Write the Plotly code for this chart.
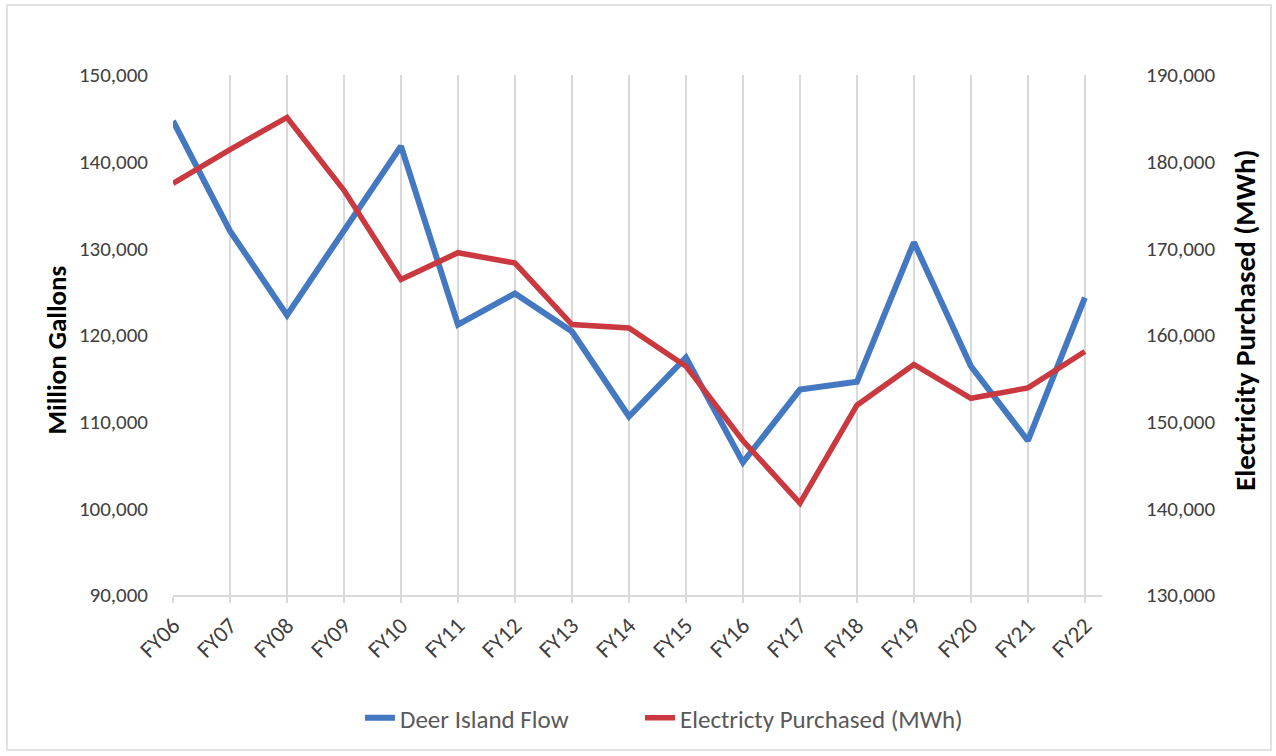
import plotly.graph_objects as go

# Fiscal years on the category axis
years = ["FY06", "FY07", "FY08", "FY09", "FY10", "FY11", "FY12", "FY13", "FY14",
         "FY15", "FY16", "FY17", "FY18", "FY19", "FY20", "FY21", "FY22"]

# Deer Island flow, million gallons (left axis)
flow_mg = [144700, 132000, 122300, 132000, 141800, 121200, 124800, 120400, 110600,
           117400, 105300, 113700, 114600, 130700, 116400, 107800, 124300]

# Electricity purchased, MWh (right axis)
electricity_mwh = [177500, 181400, 185100, 176700, 166400, 169500, 168300, 161200, 160800,
                   156400, 147800, 140600, 151900, 156600, 152700, 153900, 158100]

W, H = 1276, 756
L, R, T, B = 173, 174, 75, 161
pw, ph = W - L - R, H - T - B

FONT = "Carlito, Lato, 'Liberation Sans', sans-serif"
TICK_COLOR = "#404040"
GRID = "#d9d9d9"

fig = go.Figure()
fig.add_trace(go.Scatter(
    x=years, y=flow_mg, name="Deer Island Flow", mode="lines",
    line=dict(color="#4479c1", width=6), yaxis="y", legend="legend",
))
fig.add_trace(go.Scatter(
    x=years, y=electricity_mwh, name="Electricty Purchased (MWh)", mode="lines",
    line=dict(color="#c9393f", width=5.5), yaxis="y2", legend="legend2",
))

def px_to_paper_x(px):
    return (px - L) / pw

def px_to_paper_y(py):
    return (H - B - py) / ph

legend_style = dict(
    orientation="h", xanchor="left", yanchor="middle",
    y=px_to_paper_y(718),
    font=dict(size=25, color="#595959"),
    bgcolor="rgba(0,0,0,0)", itemwidth=30,
)

fig.update_layout(
    width=W, height=H,
    margin=dict(l=L, r=R, t=T, b=B),
    paper_bgcolor="white", plot_bgcolor="white",
    font=dict(family=FONT, size=21, color=TICK_COLOR),
    xaxis=dict(
        type="category", categoryorder="array", categoryarray=years,
        range=[0, 16.3],
        showgrid=True, gridcolor=GRID, gridwidth=1.5,
        showline=True, linecolor=GRID, linewidth=2,
        ticks="outside", ticklen=6, tickcolor=GRID, tickwidth=1.5,
        tickangle=-45, tickfont=dict(size=23, color=TICK_COLOR),
        zeroline=False,
    ),
    yaxis=dict(
        range=[90000, 150000], dtick=10000, tickformat=",",
        showgrid=False, zeroline=False, showline=False,
        tickfont=dict(size=21, color=TICK_COLOR),
        ticklabelstandoff=24,
    ),
    yaxis2=dict(
        range=[130000, 190000], dtick=10000, tickformat=",",
        overlaying="y", side="right",
        showgrid=False, zeroline=False, showline=False,
        tickfont=dict(size=21, color=TICK_COLOR),
        ticklabelstandoff=43,
    ),
    legend=dict(legend_style, x=px_to_paper_x(360)),
    legend2=dict(legend_style, x=px_to_paper_x(640)),
    showlegend=True,
)

# Axis titles
fig.add_annotation(
    text="<b>Million Gallons</b>", textangle=-90,
    x=px_to_paper_x(37), y=px_to_paper_y(350), xref="paper", yref="paper",
    showarrow=False, font=dict(size=27, color="black", family=FONT),
)
fig.add_annotation(
    text="<b>Electricity Purchased (MWh)</b>", textangle=-90,
    x=px_to_paper_x(1265), y=px_to_paper_y(320), xref="paper", yref="paper",
    showarrow=False, font=dict(size=29, color="black", family=FONT),
)

# Chart frame
fig.add_shape(
    type="rect", xref="paper", yref="paper", layer="below",
    x0=px_to_paper_x(7), x1=px_to_paper_x(1271),
    y0=px_to_paper_y(750), y1=px_to_paper_y(5),
    line=dict(color="#d9d9d9", width=1.5),
)

fig.write_html("out.html")
